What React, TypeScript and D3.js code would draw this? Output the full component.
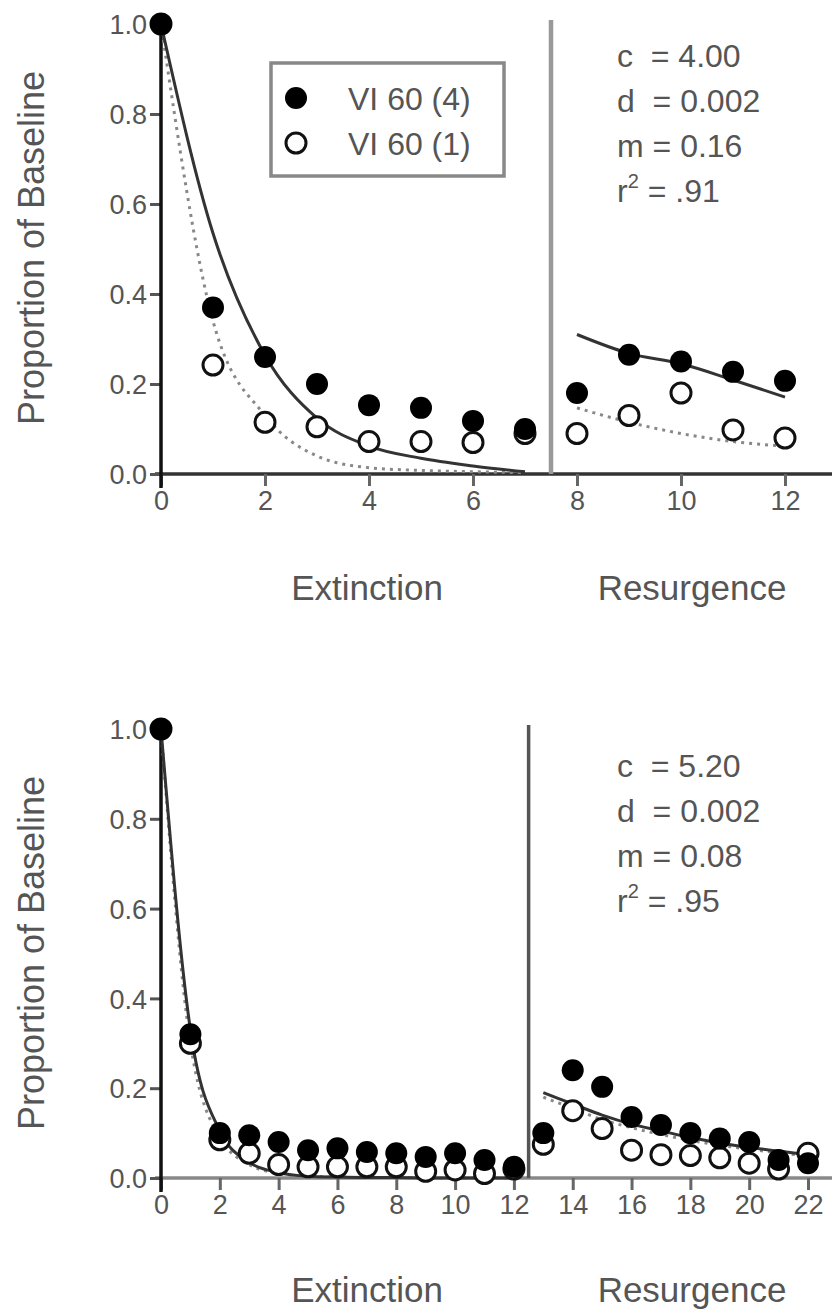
import React, { useEffect, useRef } from 'react';
import * as d3 from 'd3';

// sessions
const topSessions = d3.range(0, 13);
const botSessions = d3.range(0, 23);

// top panel observed data
const topFilled = [1.0, 0.37, 0.26, 0.2, 0.153, 0.147, 0.118, 0.1, 0.18, 0.265, 0.25, 0.227, 0.207];
const topOpen = [1.0, 0.242, 0.115, 0.105, 0.072, 0.072, 0.07, 0.09, 0.09, 0.13, 0.18, 0.098, 0.08];
// top panel fitted curves
const topFitSolidExt = [1.0, 0.535, 0.264, 0.124, 0.062, 0.035, 0.018, 0.005];
const topFitDottedExt = [1.0, 0.34, 0.13, 0.04, 0.014, 0.008, 0.005, 0.003];
const topFitSolidRes = [0.31, 0.268, 0.245, 0.209, 0.171];
const topFitDottedRes = [0.147, 0.115, 0.09, 0.072, 0.062];

// bottom panel observed data
const botFilled = [1.0, 0.32, 0.1, 0.095, 0.08, 0.062, 0.066, 0.058, 0.055, 0.047, 0.055, 0.04, 0.025,
  0.1, 0.24, 0.203, 0.136, 0.118, 0.1, 0.088, 0.08, 0.04, 0.033];
const botOpen = [1.0, 0.3, 0.085, 0.055, 0.03, 0.025, 0.025, 0.025, 0.025, 0.015, 0.018, 0.01, 0.02,
  0.075, 0.15, 0.11, 0.062, 0.052, 0.05, 0.045, 0.033, 0.02, 0.055];
// bottom panel fitted curves
const botFitSolidExt = [1.0, 0.33, 0.105, 0.035, 0.012, 0.004, 0.002, 0.001, 0.001, 0, 0, 0, 0];
const botFitDottedExt = [1.0, 0.3, 0.09, 0.03, 0.01, 0.004, 0.002, 0.001, 0.001, 0, 0, 0, 0];
const botFitSolidRes = [0.19, 0.165, 0.14, 0.12, 0.105, 0.09, 0.078, 0.068, 0.06, 0.052];
const botFitDottedRes = [0.18, 0.155, 0.13, 0.112, 0.097, 0.084, 0.073, 0.064, 0.056, 0.049];

const yTicks = [0, 0.2, 0.4, 0.6, 0.8, 1.0];
const topXTicks = [0, 2, 4, 6, 8, 10, 12];
const botXTicks = [0, 2, 4, 6, 8, 10, 12, 14, 16, 18, 20, 22];

const legendLabels = ['VI 60 (4)', 'VI 60 (1)'];
const topParams = ['c  = 4.00', 'd  = 0.002', 'm = 0.16', '.91'];
const botParams = ['c  = 5.20', 'd  = 0.002', 'm = 0.08', '.95'];

const FONT = "'Liberation Sans', Arial, sans-serif";
const TEXT = '#555';

function drawPanel(svg, opts) {
  const { x, y, xTicks, filled, open, solidExt, dottedExt, solidRes, dottedRes, resStart, split, params, paramX, paramY, vColor, labelY, tickLabelY } = opts;
  const sessions = opts.sessions;
  const g = svg.append('g');

  // x axis line
  g.append('line').attr('x1', x(0) - 6).attr('x2', 832).attr('y1', y(0)).attr('y2', y(0))
    .attr('stroke', opts.xAxisColor).attr('stroke-width', 3.5);

  // x ticks
  const xa = d3.axisBottom(x).tickValues(xTicks).tickSize(12).tickPadding(10).tickFormat(d3.format('d'));
  const xg = g.append('g').attr('transform', `translate(0,${y(0)})`).call(xa);
  xg.select('.domain').remove();
  xg.selectAll('line').attr('stroke', '#666').attr('stroke-width', 3);
  xg.selectAll('text').attr('font-family', FONT).attr('font-size', 27).attr('fill', TEXT)
    .attr('dy', null).attr('y', tickLabelY);

  // y ticks
  const ya = d3.axisLeft(y).tickValues(yTicks).tickSize(11).tickPadding(3).tickFormat(d3.format('.1f'));
  const yg = g.append('g').attr('transform', `translate(${x(0)},0)`).call(ya);
  yg.select('.domain').remove();
  yg.selectAll('line').attr('stroke', '#555').attr('stroke-width', 3);
  yg.selectAll('text').attr('font-family', FONT).attr('font-size', 27).attr('fill', TEXT).attr('dy', '0.36em');

  // y axis line
  g.append('line').attr('x1', x(0)).attr('x2', x(0)).attr('y1', y(1) - 2).attr('y2', y(0) + 14)
    .attr('stroke', '#111').attr('stroke-width', 3.5);

  // phase separator
  g.append('line').attr('x1', x(split)).attr('x2', x(split)).attr('y1', y(1) - 4).attr('y2', y(0))
    .attr('stroke', vColor).attr('stroke-width', opts.vWidth);

  // fitted curves
  const line = d3.line().x((d) => x(d[0])).y((d) => y(d[1])).curve(d3.curveMonotoneX);
  const curves = [
    { pts: dottedExt.map((v, i) => [i, v]), dotted: true },
    { pts: dottedRes.map((v, i) => [resStart + i, v]), dotted: true },
    { pts: solidExt.map((v, i) => [i, v]), dotted: false },
    { pts: solidRes.map((v, i) => [resStart + i, v]), dotted: false },
  ];
  curves.forEach((c) => {
    g.append('path').attr('d', line(c.pts))
      .attr('fill', 'none')
      .attr('stroke', c.dotted ? '#888' : '#333')
      .attr('stroke-width', 3)
      .attr('stroke-dasharray', c.dotted ? '3,5' : null);
  });

  // open markers
  g.selectAll('.open').data(sessions).enter().append('circle')
    .attr('cx', (d) => x(d)).attr('cy', (d) => y(open[d])).attr('r', 10)
    .attr('fill', 'white').attr('stroke', '#111').attr('stroke-width', 3);
  // filled markers
  g.selectAll('.filled').data(sessions).enter().append('circle')
    .attr('cx', (d) => x(d)).attr('cy', (d) => y(filled[d])).attr('r', 11)
    .attr('fill', '#000');

  // parameter text
  params.forEach((p, i) => {
    const t = g.append('text').attr('x', paramX).attr('y', paramY + i * 45)
      .attr('font-family', FONT).attr('font-size', 32).attr('fill', TEXT)
      .style('white-space', 'pre');
    if (i < 3) {
      t.text(p);
    } else {
      t.append('tspan').text('r');
      t.append('tspan').attr('font-size', 20).attr('dy', -14).text('2');
      t.append('tspan').attr('dy', 14).text(' = ' + p);
    }
  });

  // y axis title
  g.append('text').attr('transform', `translate(44,${opts.titleY}) rotate(-90)`)
    .attr('text-anchor', 'middle').attr('font-family', FONT).attr('font-size', 36).attr('fill', TEXT)
    .text('Proportion of Baseline');

  // phase labels
  g.append('text').attr('x', opts.extX).attr('y', labelY).attr('text-anchor', 'middle')
    .attr('font-family', FONT).attr('font-size', 35).attr('fill', TEXT).text('Extinction');
  g.append('text').attr('x', opts.resX).attr('y', labelY).attr('text-anchor', 'middle')
    .attr('font-family', FONT).attr('font-size', 35).attr('fill', TEXT).text('Resurgence');

  return g;
}

function App() {
  const ref = useRef(null);
  useEffect(() => {
    const svg = d3.select(ref.current);
    svg.selectAll('*').remove();

    const xTop = d3.scaleLinear().domain([0, 12]).range([161, 785]);
    const yTop = d3.scaleLinear().domain([0, 1]).range([474, 24]);
    drawPanel(svg, {
      x: xTop, y: yTop, xTicks: topXTicks, sessions: topSessions,
      filled: topFilled, open: topOpen,
      solidExt: topFitSolidExt, dottedExt: topFitDottedExt,
      solidRes: topFitSolidRes, dottedRes: topFitDottedRes, resStart: 8,
      split: 7.5, vColor: '#999', vWidth: 4.5, xAxisColor: '#333',
      params: topParams, paramX: 617, paramY: 67,
      titleY: 248, labelY: 600, extX: 367, resX: 692, tickLabelY: 36,
    });

    const xBot = d3.scaleLinear().domain([0, 22]).range([161, 808]);
    const yBot = d3.scaleLinear().domain([0, 1]).range([1178, 729]);
    drawPanel(svg, {
      x: xBot, y: yBot, xTicks: botXTicks, sessions: botSessions,
      filled: botFilled, open: botOpen,
      solidExt: botFitSolidExt, dottedExt: botFitDottedExt,
      solidRes: botFitSolidRes, dottedRes: botFitDottedRes, resStart: 13,
      split: 12.5, vColor: '#555', vWidth: 3.5, xAxisColor: '#888',
      params: botParams, paramX: 617, paramY: 777,
      titleY: 953, labelY: 1302, extX: 367, resX: 692, tickLabelY: 36,
    });

    // legend (top panel)
    const lg = svg.append('g');
    lg.append('rect').attr('x', 271).attr('y', 63).attr('width', 233).attr('height', 113)
      .attr('fill', 'white').attr('stroke', '#888').attr('stroke-width', 3.5);
    lg.append('circle').attr('cx', 296).attr('cy', 98).attr('r', 11).attr('fill', '#000');
    lg.append('circle').attr('cx', 296).attr('cy', 143).attr('r', 10)
      .attr('fill', 'white').attr('stroke', '#111').attr('stroke-width', 3);
    legendLabels.forEach((l, i) => {
      lg.append('text').attr('x', 348).attr('y', 110 + i * 45)
        .attr('font-family', FONT).attr('font-size', 32).attr('fill', TEXT).text(l);
    });
  }, []);

  return (
    <svg ref={ref} width={832} height={1313}
      style={{ position: 'absolute', left: 0, top: 0, background: 'white' }} />
  );
}

export default App;
